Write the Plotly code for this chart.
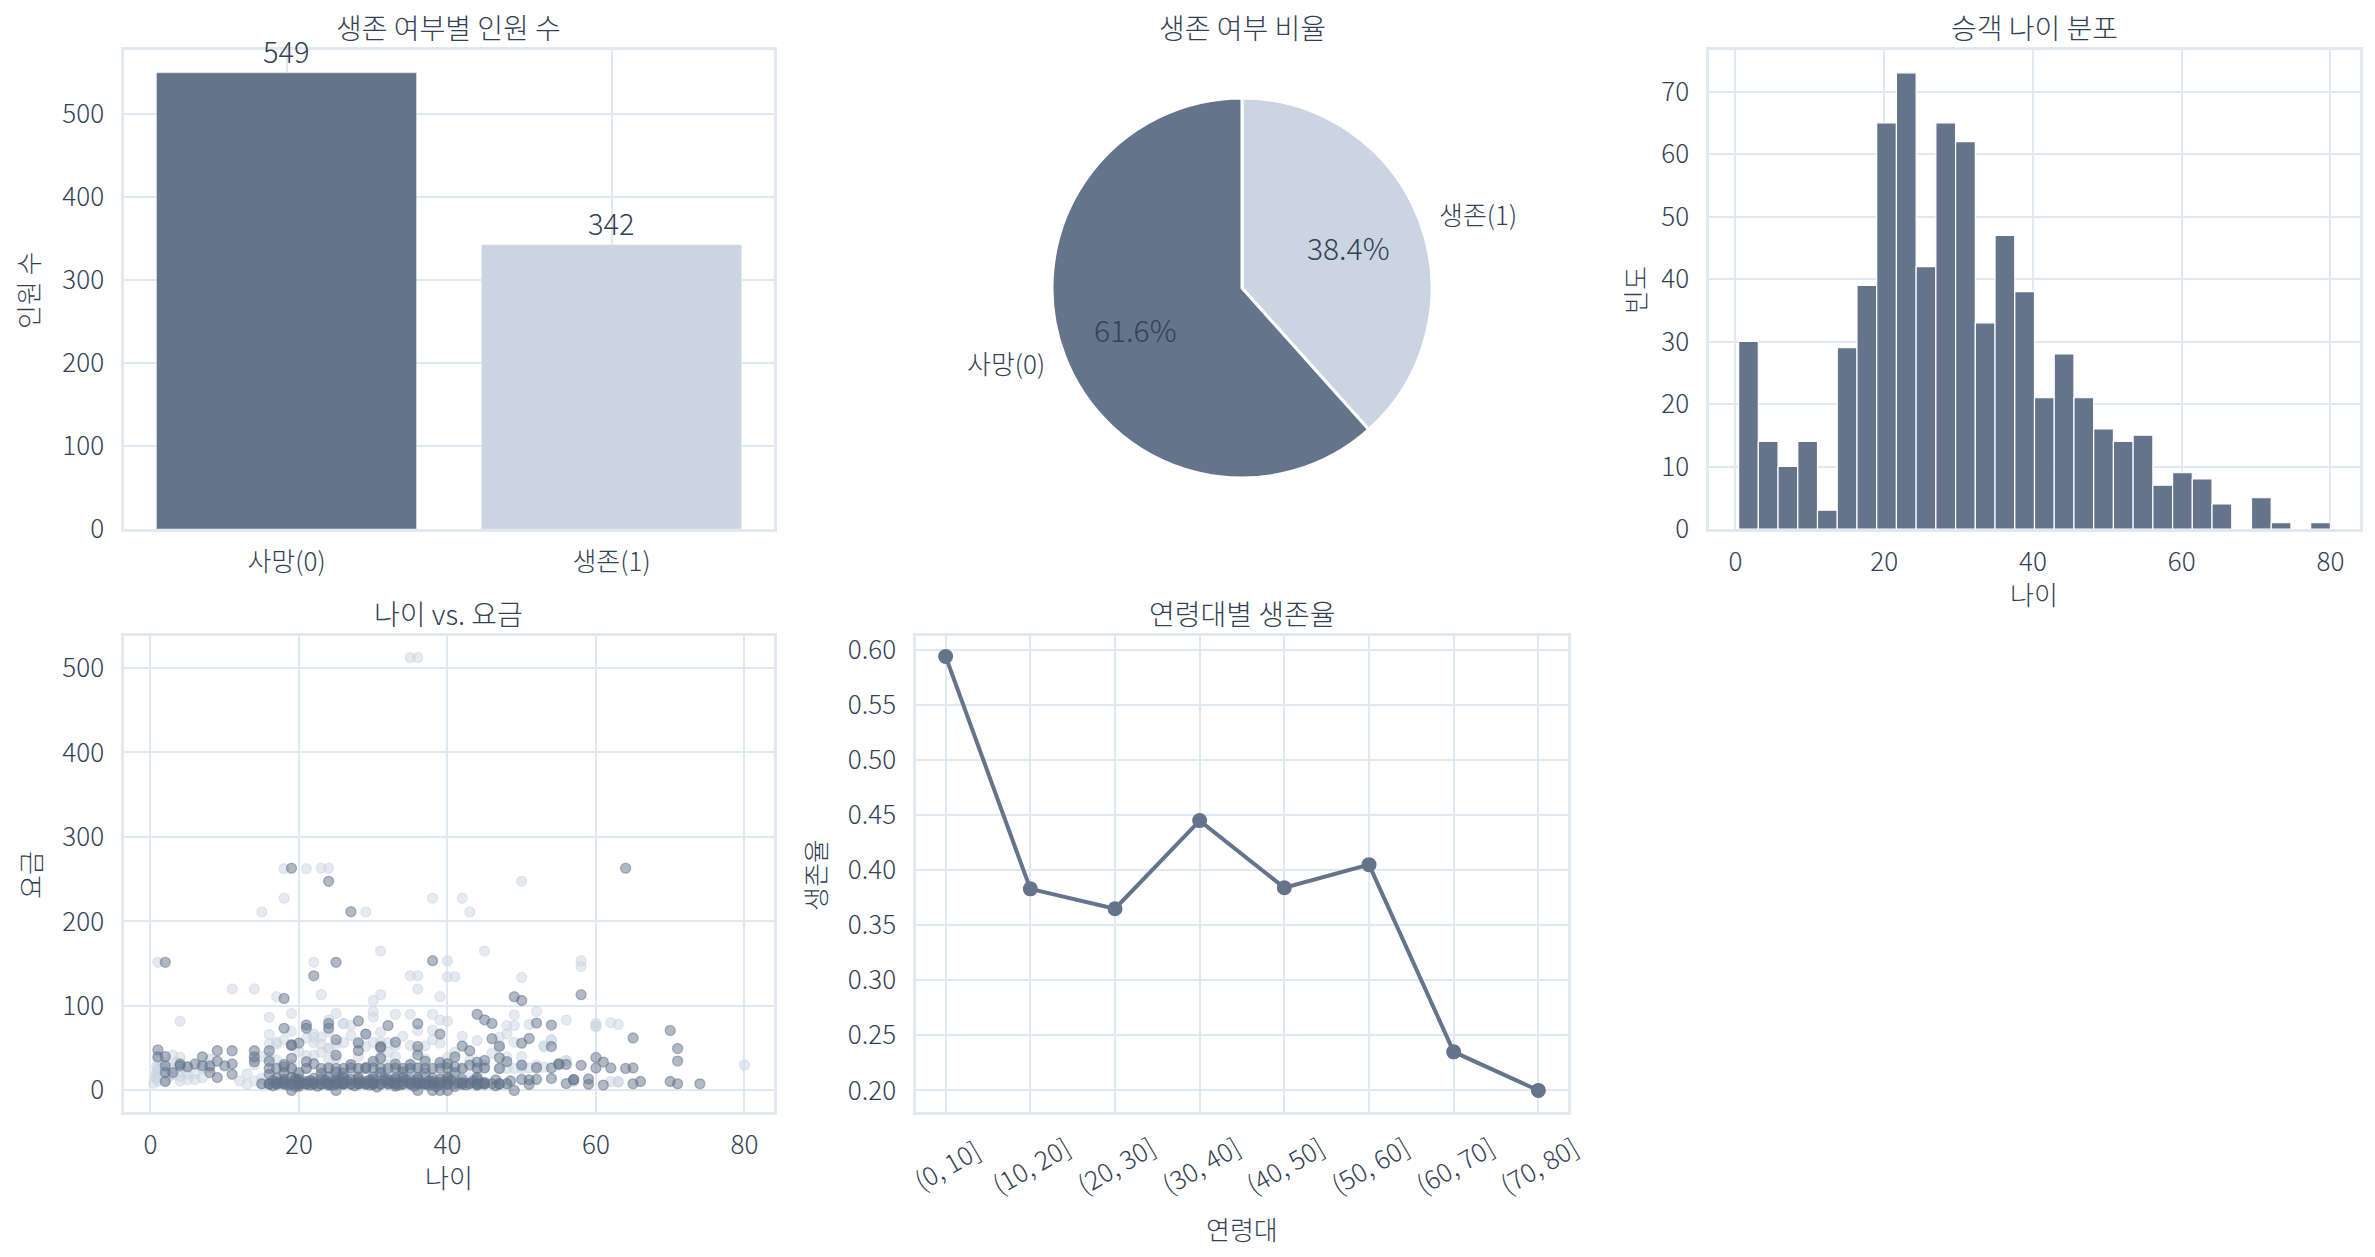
import numpy as np
import plotly.graph_objects as go

# ---- data (Titanic) ----
surv_labels = ['사망(0)', '생존(1)']
surv_counts = [549, 342]

hist_counts = [30, 14, 10, 14, 3, 29, 39, 65, 73, 42, 65, 62, 33, 47, 38,
               21, 28, 21, 16, 14, 15, 7, 9, 8, 4, 0, 5, 1, 0, 1]
age_min, age_max = 0.42, 80.0

band_labels = ['(0, 10]', '(10, 20]', '(20, 30]', '(30, 40]',
               '(40, 50]', '(50, 60]', '(60, 70]', '(70, 80]']
band_rate = [0.594, 0.383, 0.365, 0.445, 0.384, 0.405, 0.235, 0.200]

# (age, fare)
died_pts = [
    (2, 151.55), (19, 263), (24, 247.5), (27, 211.5), (64, 263), (25, 151.55), (22, 135.6), (38, 153.5),
    (18, 108.9), (36, 78.85), (58, 113.3), (49, 110.9), (50, 106.4), (45, 83.5), (46, 79.2), (44, 90),
    (28, 82.2), (32, 76.7), (24, 79.2), (24, 73.5), (18, 73.5), (21, 77.3), (21, 73.5), (29, 66.6),
    (31, 52), (31, 50.5), (19, 53.1), (25, 41.6), (70, 71), (71, 49.5), (71, 34.7), (65, 61.98),
    (61, 33.5), (62, 26.55), (64, 26), (65, 26.55), (66, 10.5), (65, 7.75), (70, 10.5), (71, 7.9),
    (74, 7.775), (61, 6.24), (59, 7.25), (59, 13.5), (60, 26.55), (60, 39), (52, 79.65), (51, 61.4),
    (50, 55.9), (54, 77.3), (54, 51.86), (55, 30.5), (57, 12.35), (58, 29.7), (47, 52), (47, 38.5),
    (48, 34), (45, 35.5), (42, 52.5), (43, 46.9), (41, 39.7), (46, 61.2), (52, 13), (50, 13),
    (51, 7), (49, 0), (54, 14), (56, 8), (56, 30.7), (54, 26.5), (55, 31.6), (28, 47.1),
    (28, 56.5), (31, 38), (36, 42), (1, 47.9), (2, 40), (2, 29.1), (4, 31.3), (6, 31.3),
    (7, 39.7), (9, 46.9), (9, 34.4), (9, 15.2), (11, 46.9), (11, 31.3), (11, 19), (14, 46.9),
    (14, 39.7), (16, 46.9), (16, 34.4), (16, 26), (16, 19), (19, 54), (19, 38), (21, 34),
    (2, 10.5), (1, 39.7), (3, 21.1), (8, 21.1), (4, 29.1), (10, 29.1), (8, 29.1), (7, 29.1),
    (2, 21.1), (5, 27.9),
    # low fare crowd
    (15, 7.9), (16, 8.05), (17, 7.75), (18, 7.9), (19, 8.05), (20, 7.85), (21, 7.9), (22, 8.05),
    (23, 7.75), (24, 7.9), (25, 8.05), (26, 7.9), (27, 7.85), (28, 7.9), (29, 8.05), (30, 7.9),
    (31, 7.75), (32, 8.05), (33, 7.9), (34, 8.05), (35, 7.9), (36, 7.75), (37, 7.9), (38, 8.05),
    (39, 7.9), (40, 7.85), (41, 7.9), (42, 8.05), (43, 7.9), (44, 8.05), (45, 7.75), (46, 7.9),
    (47, 8.05), (48, 7.9),
    (16, 7.25), (17, 7.23), (18, 7.5), (19, 7.25), (20, 7.05), (21, 7.25), (22, 7.23), (23, 7.25),
    (24, 7.5), (25, 7.05), (26, 7.25), (27, 7.23), (28, 7.5), (29, 7.25), (30, 7.23), (31, 7.25),
    (32, 7.5), (33, 7.05), (34, 7.25), (35, 7.23), (36, 7.25), (37, 7.5), (38, 7.25), (39, 7.05),
    (40, 7.25), (42, 7.23), (44, 7.25), (45, 7.5), (47, 7.25),
    (17, 9.5), (18, 10.5), (20, 9.5), (21, 10.5), (22, 9.35), (24, 9.5), (25, 10.5), (26, 9.85),
    (28, 9.5), (29, 10.5), (30, 9.5), (32, 10.5), (33, 9.5), (34, 10.5), (35, 9.22), (36, 9.5),
    (38, 10.5), (39, 9.5), (40, 10.5), (42, 9.5), (43, 8.66), (45, 9.5),
    (16.5, 11.5), (19.5, 12), (21.5, 11.5), (23.5, 12.3), (26.5, 11.1), (29.5, 12), (31.5, 11.5),
    (34.5, 12.3), (37.5, 11.1), (40.5, 12), (43.5, 11.5), (46.5, 12.3), (48.5, 11.1),
    (16.5, 5.5), (19.5, 4.5), (22.5, 5), (27.5, 5.5), (30.5, 4), (35.5, 5), (38.5, 4.5), (46.5, 5.5),
    (17.5, 8.6), (20.5, 8.7), (23.5, 8.4), (25.5, 8.9), (28.5, 8.5), (32.5, 8.7), (36.5, 8.4),
    (41.5, 8.6), (44.5, 8.5), (18.5, 6.4), (21.5, 6.5), (24.5, 6.2), (29.5, 6.5), (33.5, 6.4),
    (37.5, 6.2), (42.5, 6.5), (19.5, 14), (25.5, 13.9), (31.5, 14.1), (34, 15), (40, 13.8),
    (18, 13), (20, 13), (23, 13), (25, 13), (27, 13), (28, 13), (30, 13), (32, 13),
    (33, 13), (35, 13), (36, 13), (39, 13), (42, 13), (44, 13), (51, 12.5), (57, 13),
    (17, 14.5), (19, 15.5), (22, 14.45), (24, 16.1), (26, 14.5), (28, 15.85), (30, 16.1), (33, 14.5),
    (36, 15.5), (38, 14.45), (40, 16.1), (44, 15.5),
    (18, 20.5), (20, 21), (23, 20.2), (25, 21.7), (26, 20.5), (31, 21), (34, 21.7), (37, 20.5),
    (41, 21), (17, 26), (19, 26), (21, 26), (23, 26), (24, 26.55), (25, 26), (26, 26),
    (27, 26.55), (28, 26), (29, 26), (30, 26.55), (31, 26), (32, 26), (33, 26.55), (34, 26),
    (35, 26), (36, 26.55), (37, 26), (38, 26), (39, 26), (40, 26.55), (42, 26), (44, 26),
    (45, 26.55), (18, 30.7), (22, 31.5), (27, 30.5), (30, 34.4), (33, 31), (35, 30.7), (37, 34.4),
    (40, 31.5), (44, 33.5), (19, 0), (25, 0), (36, 0), (38, 0), (39, 0), (40, 0),
    (20, 5), (24, 6), (33, 5), (41, 4.5), (44, 6), (37, 7.75), (26, 7.9), (30, 8.05),
    (14, 34), (18, 28), (29, 27), (39, 33), (41, 28), (43, 30), (47, 26), (50, 30), (52, 27),
    (20, 56), (25, 60), (33, 57), (36, 52), (39, 66.6),
]

surv_pts = [
    (35, 512.33), (36, 512.33), (18, 262.4), (21, 262.4), (23, 263), (24, 263), (18, 227.5), (38, 227.5),
    (42, 227.5), (15, 211.3), (29, 211.3), (43, 211.3), (50, 247.5), (31, 164.9), (45, 164.9), (1, 151.55),
    (22, 151.55), (40, 153.5), (58, 153.5), (58, 146.5), (35, 135.6), (36, 135.6), (40, 134.5), (41, 134.5),
    (50, 133.65), (11, 120), (14, 120), (36, 120), (17, 110.9), (23, 113.3), (31, 113.3), (39, 110.9),
    (30, 106.4), (4, 81.9), (16, 86.5), (19, 91.1), (24, 83.2), (25, 91.1), (30, 93.5), (30, 86.5),
    (33, 90), (35, 90), (38, 90), (39, 83.2), (49, 89.1), (52, 93.5), (56, 83.2), (60, 79.2),
    (60, 75.25), (62, 80), (63, 77.96), (48, 76.7), (49, 76.7), (51, 77.96), (26, 79.2), (27, 77),
    (40, 82), (80, 30), (62, 10.5), (63, 10.5), (52, 30), (56, 35), (44, 59), (47, 53),
    (48, 67), (53, 53), (54, 60), (16, 55), (17, 55), (22, 63), (22, 56), (23, 63),
    (0.83, 29), (0.75, 19.26), (0.67, 14.5), (1, 11.1), (1, 15.7), (0.42, 8.5), (2, 26), (3, 26),
    (3, 18.75), (4, 16.7), (4, 23), (4, 39), (5, 19.26), (5, 27.75), (6, 12.5), (8, 26.25),
    (3, 41.6), (1, 37), (1, 20.6), (2, 12.3), (4, 11.1), (5, 12.5), (7, 26.25), (8, 36.75),
    (0.92, 24), (1.5, 30), (2.5, 16), (3.5, 33), (6, 20), (7, 15), (1, 26), (2, 33),
    (12, 11.2), (13, 19.5), (14, 11.24), (13, 7.2), (15, 7.2), (14, 30), (15, 14.45), (17, 10.5),
    (19, 26), (19, 30), (18, 13), (22, 10.5), (24, 13), (23, 7.55), (21, 7.75), (16, 7.75),
    (24, 49.5), (29, 26), (33, 26), (27, 30.5), (28, 13), (31, 21), (32, 30.5), (34, 23),
    (35, 26), (36, 26.3), (24, 69.3), (22, 66.6), (29, 66.6), (30, 56.9), (31, 57), (32, 56.5),
    (26, 56.5), (25, 55.44), (33, 53.1), (35, 53.1), (36, 71), (38, 71.3), (39, 55.9), (40, 39),
    (42, 26), (45, 26.55), (44, 27.7), (48, 39.6), (49, 56.9), (50, 28.7), (51, 26.55), (52, 26),
    (53, 51.48), (54, 59.4), (56, 35.5), (57, 10.5), (60, 76.3), (63, 9.6), (48, 25.9), (40, 31),
    (45, 30), (35, 30.5), (27, 10.5), (25, 7.9), (26, 7.9), (29, 7.75), (32, 7.9), (33, 12.5),
    (34, 13), (36, 13), (38, 7.2), (39, 13), (44, 7.9), (45, 7.75), (48, 7.85), (28, 26),
    (24, 26), (21, 26), (22, 41.6), (23, 55), (17, 57), (18, 60), (14, 38), (15, 40),
    (16, 39.4), (17, 36), (20, 46), (21, 41), (24, 50), (26, 78.85), (28, 55), (30, 31),
    (31, 40), (33, 40), (35, 26.3), (37, 52.55), (39, 29.7), (41, 19.5), (43, 15), (44, 26),
    (47, 26), (49, 25.9), (50, 26), (53, 27.4), (18, 23), (20, 18), (26, 17), (30, 12.5),
    (16, 66), (19, 70), (21, 62), (23, 45), (25, 38), (27, 65), (28, 40), (29, 52),
    (31, 69), (32, 45), (34, 64), (36, 48), (37, 37), (38, 60), (41, 45), (42, 64),
    (43, 36), (46, 44), (47, 63), (50, 40), (24, 36), (27, 21), (32, 18), (37, 16),
]

died_age = [p[0] for p in died_pts]
died_fare = [p[1] for p in died_pts]
surv_age = [p[0] for p in surv_pts]
surv_fare = [p[1] for p in surv_pts]

# ---- styling ----
OFF = 8  # page body margin in the browser
W, H = 2375 - 2 * OFF, 1257 - 2 * OFF
DARK = '#64748b'
LIGHT = '#cbd5e1'
TXT = '#334155'
GRID = '#e2e8f0'
FONT = 'Noto Sans CJK KR'


def px(x):
    return (x - OFF) / W


def py(y):
    return 1 - (y - OFF) / H


boxes = {
    'bar': (124, 50, 774, 529),
    'hist': (1709, 50, 2360, 529),
    'scat': (124, 636, 774, 1112),
    'line': (916, 636, 1568, 1112),
}


def axis_style(**kw):
    d = dict(showline=True, linecolor=GRID, linewidth=2.5, mirror=True,
             showgrid=True, gridcolor=GRID, gridwidth=2, zeroline=False,
             ticks='outside', tickcolor='rgba(0,0,0,0)', automargin=False,
             tickfont=dict(size=26, color=TXT, family=FONT, weight=300))
    d.update(kw)
    return d


fig = go.Figure()

# 1. count bar
fig.add_trace(go.Bar(
    x=surv_labels, y=surv_counts, marker_color=[DARK, LIGHT], width=0.8,
    xaxis='x', yaxis='y', showlegend=False))

# 2. pie: matplotlib draws the first slice counter-clockwise from 12 o'clock,
# which is the same picture as the reversed order drawn clockwise
cx, cy, r = 1242, 288, 190
fig.add_trace(go.Pie(
    labels=surv_labels[::-1], values=surv_counts[::-1], sort=False, direction='clockwise', rotation=0,
    marker=dict(colors=[LIGHT, DARK], line=dict(color='white', width=3)),
    textinfo='none', hoverinfo='label+percent', showlegend=False,
    domain=dict(x=[px(cx - r), px(cx + r)], y=[py(cy + r), py(cy - r)])))

# 3. histogram of ages
edges = np.linspace(age_min, age_max, len(hist_counts) + 1)
centers = (edges[:-1] + edges[1:]) / 2
fig.add_trace(go.Bar(
    x=centers, y=hist_counts, width=edges[1] - edges[0], marker_color=DARK,
    marker_line=dict(color='white', width=1.2), xaxis='x2', yaxis='y2', showlegend=False))

# 4. scatter age vs fare
fig.add_trace(go.Scatter(
    x=surv_age, y=surv_fare, mode='markers', xaxis='x3', yaxis='y3', showlegend=False,
    marker=dict(size=10, color='rgba(203,213,225,0.5)', line=dict(color='rgba(203,213,225,0.5)', width=1.3))))
fig.add_trace(go.Scatter(
    x=died_age, y=died_fare, mode='markers', xaxis='x3', yaxis='y3', showlegend=False,
    marker=dict(size=10, color='rgba(100,116,139,0.5)', line=dict(color='rgba(100,116,139,0.5)', width=1.3))))

# 5. survival rate by age band
fig.add_trace(go.Scatter(
    x=band_labels, y=band_rate, mode='lines+markers', xaxis='x4', yaxis='y4', showlegend=False,
    line=dict(color=DARK, width=4), marker=dict(color=DARK, size=15)))


def dom(name):
    l, t, rr, b = boxes[name]
    return [px(l), px(rr)], [py(b), py(t)]


bx, by = dom('bar')
hx, hy = dom('hist')
sx, sy = dom('scat')
lx, ly = dom('line')

fig.update_layout(
    width=W, height=H, margin=dict(l=0, r=0, t=0, b=0, pad=0, autoexpand=False),
    paper_bgcolor='white', plot_bgcolor='white',
    font=dict(family=FONT, color=TXT),
    xaxis=axis_style(domain=bx, anchor='y', type='category', range=[-0.5, 1.5], ticklen=8),
    yaxis=axis_style(domain=by, anchor='x', range=[0, 576.45], dtick=100, ticklen=12),
    xaxis2=axis_style(domain=hx, anchor='y2', range=[-3.56, 83.98], dtick=20, ticklen=8),
    yaxis2=axis_style(domain=hy, anchor='x2', range=[0, 76.65], dtick=10, ticklen=12),
    xaxis3=axis_style(domain=sx, anchor='y3', range=[-3.56, 83.98], dtick=20, ticklen=8),
    yaxis3=axis_style(domain=sy, anchor='x3', range=[-25.6, 537.9], dtick=100, ticklen=12),
    xaxis4=axis_style(domain=lx, anchor='y4', type='category', range=[-0.35, 7.35],
                      showticklabels=False),
    yaxis4=axis_style(domain=ly, anchor='x4', range=[0.1804, 0.6126], dtick=0.05,
                      tickformat='.2f', ticklen=12),
)

ann = []


def text(x, y, s, size=26, angle=0, xanchor='center', xref='paper', yref='paper',
         yanchor='middle', yshift=0):
    ann.append(dict(x=x, y=y, xref=xref, yref=yref, text=s, showarrow=False,
                    textangle=angle, xanchor=xanchor, yanchor=yanchor, yshift=yshift,
                    font=dict(size=size, color=TXT, family=FONT, weight=300)))


# bar value labels
for lab, n in zip(surv_labels, surv_counts):
    text(lab, n, str(n), size=29, xref='x', yref='y', yanchor='bottom', yshift=0)

# subplot titles
text(px(449), py(27), '생존 여부별 인원 수', size=28)
text(px(cx), py(27), '생존 여부 비율', size=28)
text(px(2034), py(27), '승객 나이 분포', size=28)
text(px(449), py(613), '나이 vs. 요금', size=28)
text(px(1242), py(613), '연령대별 생존율', size=28)

# axis titles
text(px(27), py(290), '인원 수', angle=-90)
text(px(1634), py(290), '빈도', angle=-90)
text(px(2034), py(593), '나이')
text(px(29), py(875), '요금', angle=-90)
text(px(449), py(1176), '나이')
text(px(814), py(875), '생존율', angle=-90)
text(px(1242), py(1228), '연령대')

# rotated category labels for the age band chart
for lab in band_labels:
    text(lab, py(1164), lab, size=26, angle=-30, xref='x4')

# pie labels, matplotlib style: start at 90 deg, counter-clockwise
vals = np.array(surv_counts, dtype=float)
frac = vals / vals.sum()
theta0 = 90 + 360 * np.concatenate([[0], np.cumsum(frac)[:-1]])
mid = np.deg2rad(theta0 + 180 * frac)
for lab, f, a in zip(surv_labels, frac, mid):
    ux, uy = np.cos(a), np.sin(a)
    text(px(cx + 0.6 * r * ux), py(cy - 0.6 * r * uy), f'{f * 100:.1f}%', size=30)
    text(px(cx + 1.1 * r * ux), py(cy - 1.1 * r * uy), lab, size=26,
         xanchor='left' if ux > 0 else 'right')

fig.update_layout(annotations=ann)

fig.write_html("out.html")
